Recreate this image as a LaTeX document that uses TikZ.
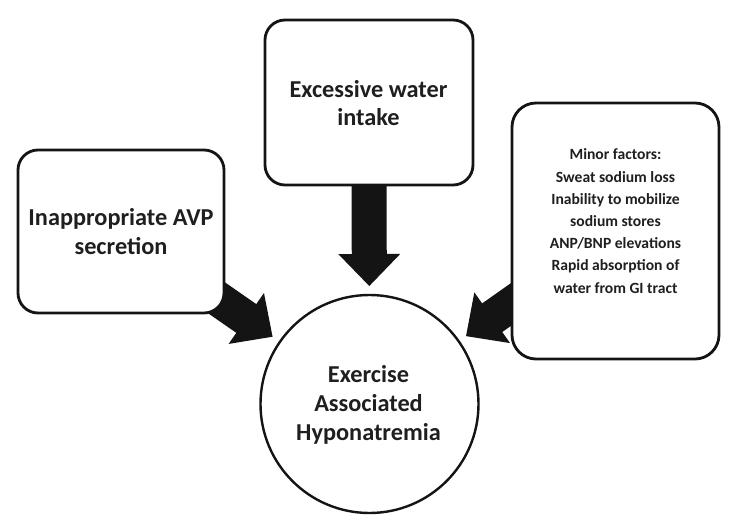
\documentclass[tikz,border=0pt]{standalone}
\usepackage{fontspec}
\setmainfont{Carlito}
\usetikzlibrary{calc}
\pgfdeclarelayer{background}
\pgfdeclarelayer{arrowlayer}
\pgfsetlayers{background,arrowlayer,main}
\begin{document}
\begin{tikzpicture}[x=1pt,y=-1pt,
  box/.style={draw=black!92, line width=2.8pt, fill=white, rounded corners=20pt, inner sep=0pt},
  ring/.style={draw=black!92, line width=2.4pt, fill=white, circle, inner sep=0pt, minimum size=218pt},
  biglbl/.style={font=\bfseries\fontsize{24.3}{28.8}\selectfont, align=center, anchor=base, inner sep=0pt, text=black!88},
  smalllbl/.style={font=\bfseries\fontsize{15.6}{22.2}\selectfont, align=center, anchor=base, inner sep=0pt, text=black!88},
  shaft/.style={line width=35pt, draw=black!92},
  head/.style={fill=black!92}]
\begin{pgfonlayer}{background}
\fill[white] (0,0) rectangle (734,524);
\end{pgfonlayer}
\useasboundingbox (0,0) rectangle (734,524);
% shapes
\node[box, minimum width=206pt, minimum height=163pt] (L) at (121,231.5) {};
\node[box, minimum width=208pt, minimum height=165pt] (T) at (369,102.5) {};
\node[box, rounded corners=24pt, minimum width=207pt, minimum height=256pt] (R) at (615.5,231) {};
\node[ring] (C) at (369.5,404) {};
% texts (anchor base = baseline of last line)
\node[biglbl] (Ltext) at (121,254) {Inappropriate AVP\\secretion};
\node[biglbl] (Ttext) at (368.5,126) {Excessive water\\intake};
\node[biglbl] (Ctext) at (368.5,440) {Exercise\\Associated\\Hyponatremia};
\node[smalllbl] (Rtext) at (615.5,293) {Minor factors:\\Sweat sodium loss\\Inability to mobilize\\sodium stores\\ANP/BNP elevations\\Rapid absorption of\\water from GI tract};
% arrows
\begin{pgfonlayer}{arrowlayer}
\foreach \s in {L,T,R}{
  \coordinate (tip\s) at ($(C.center)!118pt!(\s.center)$);
  \coordinate (base\s) at ($(C.center)!150pt!(\s.center)$);
  \coordinate (end\s) at ($(C.center)!148pt!(\s.center)$);
  \draw[shaft] (\s.center) -- (end\s);
  \fill[head] (tip\s) -- ($(base\s)!31pt!90:(tip\s)$) -- ($(base\s)!31pt!-90:(tip\s)$) -- cycle;
}
\end{pgfonlayer}
\end{tikzpicture}
\end{document}
